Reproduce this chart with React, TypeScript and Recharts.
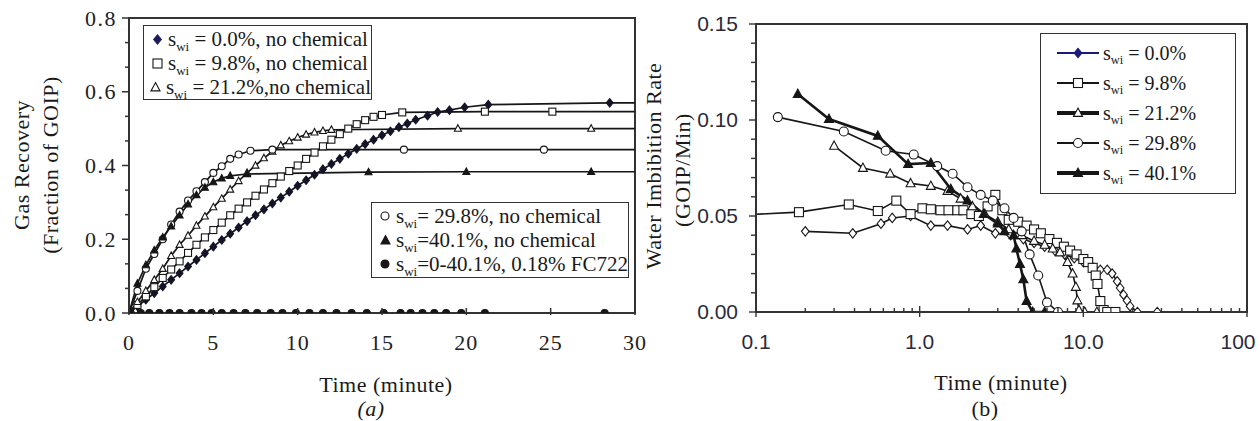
import React from 'react'
import { LineChart, Line, XAxis, YAxis, ReferenceArea } from 'recharts'

const SERIF = '"Liberation Serif", "Times New Roman", serif'
const SANS = '"Liberation Sans", Arial, sans-serif'
const INK = '#161616'
const FRAME = '#333'

// ---- (a) gas recovery vs time, linear axes
const tA00 = [0, 0.5, 1, 1.5, 2, 2.5, 3, 3.5, 4, 4.5, 5, 5.5, 6, 6.5, 7, 7.5, 8, 8.5, 9, 9.5, 10, 10.5, 11, 11.5, 12, 12.5, 13, 13.5, 14, 14.5, 15, 15.5, 16, 16.5, 17, 17.7, 18.3, 19, 19.9, 21.3, 28.5, 30]
const vA00 = [0, 0.018, 0.036, 0.054, 0.072, 0.09, 0.108, 0.126, 0.144, 0.162, 0.18, 0.198, 0.215, 0.232, 0.249, 0.265, 0.281, 0.297, 0.313, 0.329, 0.345, 0.36, 0.375, 0.39, 0.404, 0.418, 0.432, 0.445, 0.458, 0.47, 0.482, 0.493, 0.504, 0.514, 0.524, 0.535, 0.545, 0.55, 0.558, 0.565, 0.57, 0.57]

const tA98 = [0, 0.5, 1, 1.5, 2, 2.5, 3, 3.5, 4, 4.5, 5, 5.5, 6, 6.5, 7, 7.5, 8, 8.5, 9, 9.5, 10, 10.5, 11, 11.5, 12, 12.5, 13, 13.5, 14, 14.5, 15, 16.2, 21.1, 25.1, 30]
const vA98 = [0, 0.022, 0.045, 0.07, 0.095, 0.118, 0.14, 0.163, 0.185, 0.205, 0.225, 0.245, 0.265, 0.283, 0.3, 0.318, 0.335, 0.352, 0.37, 0.385, 0.4, 0.418, 0.435, 0.452, 0.47, 0.485, 0.5, 0.512, 0.523, 0.532, 0.537, 0.544, 0.546, 0.546, 0.546]

const tA212 = [0, 0.5, 1, 1.5, 2, 2.5, 3, 3.5, 4, 4.5, 5, 5.5, 6, 6.5, 7, 7.5, 8, 8.5, 9, 9.5, 10, 10.5, 11, 11.5, 12, 19.5, 27.4, 30]
const vA212 = [0, 0.03, 0.06, 0.09, 0.12, 0.155, 0.185, 0.21, 0.237, 0.262, 0.287, 0.31, 0.335, 0.358, 0.38, 0.4, 0.42, 0.438, 0.455, 0.466, 0.476, 0.484, 0.49, 0.494, 0.497, 0.5, 0.5, 0.5]

const tA298 = [0, 0.5, 1, 1.5, 2, 2.5, 3, 3.5, 4, 4.5, 5, 5.5, 6, 6.5, 7.2, 8.5, 16.3, 24.6, 30]
const vA298 = [0, 0.06, 0.12, 0.16, 0.2, 0.24, 0.275, 0.305, 0.33, 0.355, 0.38, 0.398, 0.418, 0.43, 0.44, 0.443, 0.443, 0.443, 0.443]

const tA401 = [0, 0.5, 1, 1.5, 2, 2.5, 3, 3.5, 4, 4.5, 5, 5.5, 6, 7, 14.2, 20, 27.4, 30]
const vA401 = [0, 0.08, 0.13, 0.17, 0.205, 0.235, 0.265, 0.295, 0.32, 0.34, 0.355, 0.365, 0.372, 0.377, 0.382, 0.383, 0.383, 0.383]

const tAfc = [0, 0.1, 0.7, 1.2, 1.8, 2.4, 3.0, 3.7, 4.3, 4.9, 5.5, 6.2, 6.9, 7.6, 8.4, 9.1, 9.9, 10.7, 11.5, 12.3, 13.2, 14.1, 15.1, 16.1, 16.7, 17.4, 18.1, 18.8, 19.7, 21.1, 28.2, 30]
const vAfc = tAfc.map(() => 0)

const ticksAX = [0, 5, 10, 15, 20, 25, 30]
const ticksAY = [0, 0.2, 0.4, 0.6, 0.8]
const minorAY = [0.0667, 0.1333, 0.2667, 0.3333, 0.4667, 0.5333, 0.6667, 0.7333]

// ---- (b) imbibition rate vs time, log x
const tB00 = [0.2, 0.39, 0.58, 0.68, 0.88, 1.17, 1.48, 1.96, 2.36, 2.9, 3.6, 4.3, 5.0, 5.8, 6.7, 7.7, 8.8, 10.0, 11.6, 12.7, 14.0, 15.0, 16.1, 16.8, 17.6, 18.5, 19.3, 21.4, 28.3]
const vB00 = [0.042, 0.041, 0.046, 0.049, 0.05, 0.045, 0.045, 0.043, 0.045, 0.041, 0.04, 0.038, 0.036, 0.034, 0.032, 0.03, 0.028, 0.026, 0.023, 0.022, 0.022, 0.02, 0.016, 0.0125, 0.009, 0.006, 0.003, 0, 0]

const tB98 = [0.08, 0.183, 0.369, 0.555, 0.72, 0.88, 1.04, 1.17, 1.34, 1.5, 1.7, 1.85, 2.07, 2.3, 2.6, 2.9, 3.2, 3.5, 4.0, 4.5, 5.0, 5.5, 6.2, 6.9, 7.6, 8.3, 9.1, 10, 10.7, 11.4, 11.9, 12.2, 12.7, 13.3, 14, 15.7]
const vB98 = [0.0505, 0.052, 0.056, 0.0526, 0.058, 0.051, 0.054, 0.0535, 0.053, 0.053, 0.053, 0.053, 0.051, 0.05, 0.055, 0.061, 0.053, 0.048, 0.047, 0.045, 0.043, 0.041, 0.038, 0.036, 0.034, 0.032, 0.03, 0.0276, 0.026, 0.023, 0.019, 0.0146, 0.0057, 0.001, 0, 0]

const tB212 = [0.3, 0.45, 0.66, 0.88, 1.17, 1.48, 1.78, 2.1, 2.5, 3.0, 3.5, 4.2, 5.0, 5.8, 6.5, 7.2, 8.0, 8.6, 9.0, 9.2, 9.4, 10.2, 12.1]
const vB212 = [0.0865, 0.075, 0.072, 0.067, 0.0656, 0.063, 0.059, 0.055, 0.051, 0.047, 0.043, 0.04, 0.037, 0.035, 0.033, 0.031, 0.026, 0.02, 0.013, 0.006, 0.001, 0, 0]

const tB298 = [0.136, 0.344, 0.62, 0.92, 1.28, 1.59, 1.96, 2.36, 2.8, 3.3, 3.75, 4.2, 4.7, 5.3, 6.0, 7.0]
const vB298 = [0.1015, 0.094, 0.084, 0.082, 0.076, 0.072, 0.065, 0.061, 0.058, 0.054, 0.049, 0.042, 0.03, 0.019, 0.005, 0]

const tB401 = [0.18, 0.279, 0.555, 0.85, 1.17, 1.55, 1.96, 2.46, 3.0, 3.3, 3.75, 3.9, 4.1, 4.3, 4.5, 4.9, 5.8]
const vB401 = [0.1135, 0.1005, 0.0917, 0.077, 0.0776, 0.064, 0.058, 0.051, 0.046, 0.042, 0.04, 0.033, 0.025, 0.017, 0.0057, 0, 0]

const ticksBX = [0.1, 1, 10, 100]
const labelsBX = ['0.1', '1.0', '10.0', '100']
const minorBX = [0.2, 0.3, 0.4, 0.5, 0.6, 0.7, 0.8, 0.9, 2, 3, 4, 5, 6, 7, 8, 9, 20, 30, 40, 50, 60, 70, 80, 90]
const ticksBY = [0, 0.05, 0.1, 0.15]
const minorBY = [0.01, 0.02, 0.03, 0.04, 0.06, 0.07, 0.08, 0.09, 0.11, 0.12, 0.13, 0.14]

type Shape = 'diamond' | 'square' | 'triangle' | 'circle'

const rows = (t: number[], v: number[]) => t.map((x, i) => ({ t: x, v: v[i] }))

const seriesA = [
  { key: 'a0', text: ' = 0.0%, no chemical', data: rows(tA00, vA00), shape: 'diamond' as Shape, solid: true, color: '#1c1c5c' },
  { key: 'a1', text: ' = 9.8%, no chemical', data: rows(tA98, vA98), shape: 'square' as Shape, solid: false, color: INK },
  { key: 'a2', text: ' = 21.2%,no chemical', data: rows(tA212, vA212), shape: 'triangle' as Shape, solid: false, color: INK },
  { key: 'a3', text: '= 29.8%, no chemical', data: rows(tA298, vA298), shape: 'circle' as Shape, solid: false, color: INK },
  { key: 'a4', text: '=40.1%, no chemical', data: rows(tA401, vA401), shape: 'triangle' as Shape, solid: true, color: INK },
  { key: 'a5', text: '=0-40.1%, 0.18% FC722', data: rows(tAfc, vAfc), shape: 'circle' as Shape, solid: true, color: INK },
]

const seriesB = [
  { key: 'b0', text: ' = 0.0%', data: rows(tB00, vB00), shape: 'diamond' as Shape, solid: false, lw: 1.6, legendSolid: true, legendColor: '#1a1a7a', legendLw: 2 },
  { key: 'b1', text: ' = 9.8%', data: rows(tB98, vB98), shape: 'square' as Shape, solid: false, lw: 1.6, legendSolid: false, legendColor: INK, legendLw: 2 },
  { key: 'b2', text: ' = 21.2%', data: rows(tB212, vB212), shape: 'triangle' as Shape, solid: false, lw: 1.6, legendSolid: false, legendColor: INK, legendLw: 4 },
  { key: 'b3', text: ' = 29.8%', data: rows(tB298, vB298), shape: 'circle' as Shape, solid: false, lw: 1.6, legendSolid: false, legendColor: INK, legendLw: 2 },
  { key: 'b4', text: ' = 40.1%', data: rows(tB401, vB401), shape: 'triangle' as Shape, solid: true, lw: 2.6, legendSolid: true, legendColor: INK, legendLw: 4 },
]

function Marker({ shape, cx, cy, size, solid, color }: { shape: Shape; cx: number; cy: number; size: number; solid: boolean; color: string }) {
  const r = size / 2
  const style = { fill: solid ? color : '#fff', stroke: color, strokeWidth: 1.1 }
  if (shape === 'diamond') {
    return <polygon points={`${cx},${cy - r * 1.05} ${cx + r * 0.85},${cy} ${cx},${cy + r * 1.05} ${cx - r * 0.85},${cy}`} {...style} />
  }
  if (shape === 'square') {
    return <rect x={cx - r} y={cy - r} width={size} height={size} {...style} />
  }
  if (shape === 'triangle') {
    return <polygon points={`${cx},${cy - r * 1.1} ${cx + r},${cy + r * 0.75} ${cx - r},${cy + r * 0.75}`} {...style} />
  }
  return <circle cx={cx} cy={cy} r={r} {...style} />
}

const makeDot = (shape: Shape, solid: boolean, size: number, color: string, hide: (t: number) => boolean) => (p: any) => {
  const { cx, cy, index, payload } = p
  if (cx == null || cy == null || !payload || hide(payload.t)) return <g key={`d${index}`} />
  return (
    <g key={`d${index}`}>
      <Marker shape={shape} cx={cx} cy={cy} size={size} solid={solid} color={color} />
    </g>
  )
}

// tick renderers: tick lines drawn here, label offset = tickMargin
const AX_M = 29
const AY_M = 12
const BX_M = 30
const BY_M = 18

function AXTick(p: any) {
  const { x, y, payload } = p
  const ay = y - AX_M
  return (
    <g>
      <line x1={x} x2={x} y1={ay - 5} y2={ay + 2} stroke={FRAME} strokeWidth={1.5} />
      <text x={x} y={y} dy="0.35em" textAnchor="middle" fontFamily={SERIF} fontSize={22} letterSpacing={1} fill="#222">
        {payload.value}
      </text>
    </g>
  )
}

function AYTick(p: any) {
  const { x, y, payload } = p
  const ax = x + AY_M
  const major = ticksAY.includes(payload.value)
  return (
    <g>
      <line x1={ax - (major ? 7 : 4)} x2={ax} y1={y} y2={y} stroke={FRAME} strokeWidth={1.5} />
      {major && (
        <text x={x} y={y} dy="0.35em" textAnchor="end" fontFamily={SERIF} fontSize={22} letterSpacing={1.5} fill="#222">
          {payload.value.toFixed(1)}
        </text>
      )}
    </g>
  )
}

function BXTick(p: any) {
  const { x, y, payload } = p
  const ay = y - BX_M
  const i = ticksBX.indexOf(payload.value)
  const major = i >= 0
  const last = i === ticksBX.length - 1
  return (
    <g>
      <line x1={x} x2={x} y1={ay - (major ? 6 : 4)} y2={ay + (major ? 5 : 0)} stroke={FRAME} strokeWidth={1.4} />
      {major && (
        <text x={x} y={y} dx={last ? -9 : 0} dy="0.35em" textAnchor="middle" fontFamily={SANS} fontSize={21} fill="#2a2a3a">
          {labelsBX[i]}
        </text>
      )}
    </g>
  )
}

function BYTick(p: any) {
  const { x, y, payload } = p
  const ax = x + BY_M
  const major = ticksBY.includes(payload.value)
  return (
    <g>
      <line x1={ax - (major ? 7 : 5)} x2={ax} y1={y} y2={y} stroke={FRAME} strokeWidth={1.4} />
      {major && (
        <text x={x} y={y} dy="0.35em" textAnchor="end" fontFamily={SANS} fontSize={21} fill="#2a2a3a">
          {payload.value.toFixed(2)}
        </text>
      )}
    </g>
  )
}

const Swi = ({ rest }: { rest: string }) => (
  <span>
    s<span style={{ fontSize: '0.62em', position: 'relative', top: '0.4em' }}>wi</span>
    {rest}
  </span>
)

function LegendSymbol({ shape, solid, color, size }: { shape: Shape; solid: boolean; color: string; size: number }) {
  return (
    <svg width={size + 4} height={size + 4} style={{ display: 'block' }}>
      <Marker shape={shape} cx={(size + 4) / 2} cy={(size + 4) / 2} size={size} solid={solid} color={color} />
    </svg>
  )
}

function LegendA({ items, left, top, width, height }: { items: typeof seriesA; left: number; top: number; width: number; height: number }) {
  return (
    <div
      style={{
        position: 'absolute', left, top, width, height, boxSizing: 'border-box',
        border: `1.5px solid ${FRAME}`, background: '#fff', fontFamily: SERIF, fontSize: 21,
        color: '#1a1a1a', paddingTop: 1,
      }}
    >
      {items.map((s) => (
        <div key={s.key} style={{ display: 'flex', alignItems: 'center', height: 24, whiteSpace: 'nowrap' }}>
          <div style={{ width: 22, display: 'flex', justifyContent: 'center', marginLeft: 2 }}>
            <LegendSymbol shape={s.shape} solid={s.solid} color={s.color} size={s.shape === 'circle' ? 8 : 9} />
          </div>
          <Swi rest={s.text} />
        </div>
      ))}
    </div>
  )
}

function LegendB() {
  return (
    <div
      style={{
        position: 'absolute', left: 1040, top: 33, width: 196, height: 161, boxSizing: 'border-box',
        border: `1.5px solid ${FRAME}`, background: '#fff', fontFamily: SERIF, fontSize: 20,
        color: '#1a1a1a', paddingTop: 4,
      }}
    >
      {seriesB.map((s) => (
        <div key={s.key} style={{ display: 'flex', alignItems: 'center', height: 30, whiteSpace: 'nowrap' }}>
          <svg width={50} height={20} style={{ display: 'block', marginLeft: 12 }}>
            <line x1={4} x2={46} y1={10} y2={10} stroke={s.legendColor} strokeWidth={s.legendLw} />
            <Marker shape={s.shape} cx={25} cy={10} size={9} solid={s.legendSolid} color={s.legendColor} />
          </svg>
          <Swi rest={s.text} />
        </div>
      ))}
    </div>
  )
}

const titleStyle: React.CSSProperties = {
  position: 'absolute', fontFamily: SERIF, fontSize: 22, color: '#1a1a1a', whiteSpace: 'nowrap',
  letterSpacing: 0.5, lineHeight: 1,
}

function Title({ x, y, text, rotate, italic }: { x: number; y: number; text: string; rotate?: boolean; italic?: boolean }) {
  return (
    <div
      style={{
        ...titleStyle, left: x, top: y, fontStyle: italic ? 'italic' : 'normal',
        transform: `translate(-50%, -50%)${rotate ? ' rotate(-90deg)' : ''}`,
      }}
    >
      {text}
    </div>
  )
}

export default function App() {
  return (
    <div style={{ position: 'relative', width: 1260, height: 421, background: '#fff', overflow: 'hidden' }}>
      <style>{'body{margin:0}'}</style>

      <div style={{ position: 'absolute', left: 0, top: 0 }}>
        <LineChart width={660} height={421} margin={{ top: 18, right: 25, bottom: 0, left: 0 }}>
          <XAxis
            type="number" dataKey="t" domain={[0, 30]} ticks={ticksAX} interval={0} allowDataOverflow
            height={108} tickSize={0} tickMargin={AX_M} tickLine={false}
            tick={(p: any) => <AXTick {...p} />} axisLine={{ stroke: FRAME, strokeWidth: 2 }}
          />
          <YAxis
            type="number" domain={[0, 0.8]} ticks={[...ticksAY, ...minorAY].sort((a, b) => a - b)} interval={0}
            allowDataOverflow width={129} tickSize={0} tickMargin={AY_M} tickLine={false}
            tick={(p: any) => <AYTick {...p} />} axisLine={{ stroke: FRAME, strokeWidth: 2 }}
          />
          <ReferenceArea x1={0} x2={30} y1={0} y2={0.8} fill="none" stroke={FRAME} strokeWidth={2} ifOverflow="visible" />
          {seriesA.map((s) => (
            <Line
              key={s.key} data={s.data} dataKey="v" type="linear" stroke={INK} strokeWidth={s.key === 'a5' ? 2.2 : 1.7}
              dot={makeDot(s.shape, s.solid, s.shape === 'diamond' ? 8 : 7, s.shape === 'diamond' ? '#141428' : INK, (t) => t === 30)}
              activeDot={false} isAnimationActive={false} legendType="none"
            />
          ))}
        </LineChart>
      </div>

      <div style={{ position: 'absolute', left: 640, top: 0 }}>
        <LineChart width={620} height={421} margin={{ top: 24, right: 13, bottom: 0, left: 0 }}>
          <XAxis
            type="number" dataKey="t" scale="log" domain={[0.1, 100]} ticks={[...ticksBX, ...minorBX].sort((a, b) => a - b)}
            interval={0} allowDataOverflow height={109} tickSize={0} tickMargin={BX_M} tickLine={false}
            tick={(p: any) => <BXTick {...p} />} axisLine={{ stroke: FRAME, strokeWidth: 2 }}
          />
          <YAxis
            type="number" domain={[0, 0.15]} ticks={[...ticksBY, ...minorBY].sort((a, b) => a - b)} interval={0}
            allowDataOverflow width={116} tickSize={0} tickMargin={BY_M} tickLine={false}
            tick={(p: any) => <BYTick {...p} />} axisLine={{ stroke: FRAME, strokeWidth: 2 }}
          />
          <ReferenceArea x1={0.1} x2={100} y1={0} y2={0.15} fill="none" stroke={FRAME} strokeWidth={2} ifOverflow="visible" />
          {seriesB.map((s) => (
            <Line
              key={s.key} data={s.data} dataKey="v" type="linear" stroke={INK} strokeWidth={s.lw}
              dot={makeDot(s.shape, s.solid, 9, INK, (t) => t < 0.1)}
              activeDot={false} isAnimationActive={false} legendType="none"
            />
          ))}
        </LineChart>
      </div>

      <LegendA items={seriesA.slice(0, 3)} left={143} top={25} width={229} height={75} />
      <LegendA items={seriesA.slice(3)} left={371} top={202} width={258} height={76} />
      <LegendB />

      <Title x={22} y={165} text="Gas Recovery" rotate />
      <Title x={51} y={165} text="(Fraction of GOIP)" rotate />
      <Title x={386} y={385} text="Time (minute)" />
      <Title x={371} y={409} text="(a)" italic />

      <Title x={654} y={166} text="Water Imbibition Rate" rotate />
      <Title x={683} y={170} text="(GOIP/Min)" rotate />
      <Title x={1001} y={383} text="Time (minute)" />
      <Title x={985} y={409} text="(b)" />
    </div>
  )
}
